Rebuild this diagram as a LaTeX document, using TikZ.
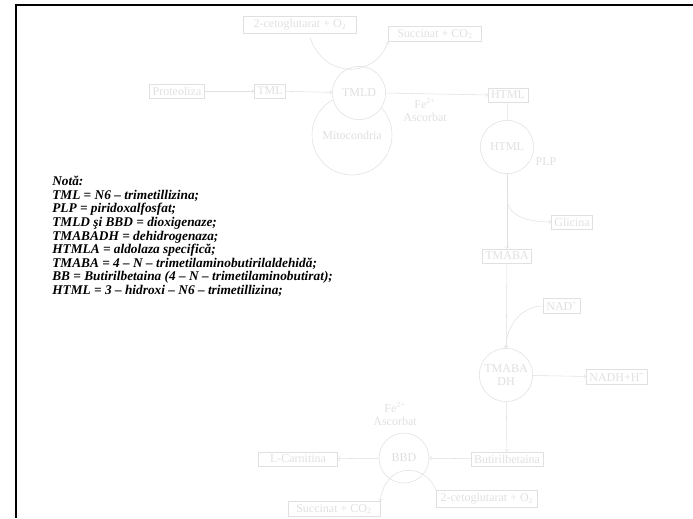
\documentclass[tikz,border=0pt]{standalone}
\usepackage{fontspec}
\setmainfont{Liberation Serif}
\definecolor{faint}{gray}{0.88}
\tikzset{
  boxx/.style={draw=faint, text=faint, inner sep=2.2pt, font=\fontsize{9}{10}\selectfont},
  enz/.style={circle, draw=faint, text=faint, fill=white, minimum size=40pt, inner sep=0pt, align=center, font=\fontsize{9}{10}\selectfont},
  lbl/.style={text=faint, align=center, font=\fontsize{9}{10}\selectfont},
  arr/.style={->, draw=faint}
}
\begin{document}
\begin{tikzpicture}[x=0.75pt, y=-0.75pt]
\useasboundingbox (0,0) rectangle (693,518);
\draw [line width=1.5pt] (16,518) -- (16,5) -- (693,5);
% TMLD step
\node [enz, minimum size=60pt] (mito) at (352,135) {Mitocondria};
\node [enz] (tmld) at (359,93) {TMLD};
\node [boxx] (prot) at (177,91) {Proteoliza};
\node [boxx] (tml) at (270,91) {TML};
\node [boxx, minimum width=85pt] (ceto1) at (300,25) {2-cetoglutarat + O\textsubscript{2}};
\node [boxx, minimum width=70pt] (succ1) at (435,34) {Succinat + CO\textsubscript{2}};
\node [lbl] (fe1) at (425,110) {Fe\textsuperscript{2+}\\Ascorbat};
\draw [arr] (prot) -- (tml);
\draw [arr] (tml) -- (tmld);
\draw [arr] (ceto1.south) ++(10,4) .. controls (325,80) and (375,78) .. (succ1.south west);
% HTML step
\node [boxx] (html) at (508,95) {HTML};
\node [enz] (htmlc) at (507,147) {HTML};
\node [lbl] (plp) at (546,162) {PLP};
\node [boxx] (glic) at (572,222) {Glicina};
\node [boxx] (tmaba) at (507,256) {TMABA};
\coordinate (gl) at (507,198);
\draw [arr] (tmld.east) -- (html.west);
\draw [draw=faint] (html) -- (htmlc);
\draw [arr] (htmlc) -- (tmaba);
\draw [arr] (gl) to[out=-90,in=180] (glic.west);
% TMABA DH step
\node [boxx] (nad) at (562,306) {NAD\textsuperscript{+}};
\node [enz] (tmabadh) at (506,375) {TMABA\\DH};
\node [boxx] (nadh) at (617,377) {NADH+H\textsuperscript{+}};
\node [boxx] (butir) at (507,459) {Butirilbetaina};
\draw [arr] (tmaba) -- (tmabadh);
\draw [arr] (nad.west) to[out=180,in=90] (tmabadh.north);
\draw [arr] (tmabadh) -- (nadh);
\draw [arr] (tmabadh) -- (butir);
% BBD step
\node [enz, minimum size=37.5pt] (bbd) at (404,458) {BBD};
\node [lbl] (fe2) at (395,414) {Fe\textsuperscript{2+}\\Ascorbat};
\node [boxx, minimum width=59pt] (lcarn) at (298,459) {L-Carnitina};
\node [boxx, minimum width=76pt] (ceto2) at (487,499) {2-cetoglutarat + O\textsubscript{2}};
\node [boxx, minimum width=69pt] (succ2) at (334,509) {Succinat + CO\textsubscript{2}};
\draw [arr] (butir) -- (bbd);
\draw [arr] (bbd) -- (lcarn);
\draw [arr] (ceto2.north west) .. controls (425,462) and (385,462) .. (succ2.north east);
% note
\node [anchor=north west, align=left, inner sep=0pt, font=\fontsize{10}{10.2}\selectfont\bfseries\itshape] (nota) at (52,176) {Notă:\\
TML = N6 – trimetillizina;\\
PLP = piridoxalfosfat;\\
TMLD şi BBD = dioxigenaze;\\
TMABADH = dehidrogenaza;\\
HTMLA = aldolaza specifică;\\
TMABA = 4 – N – trimetilaminobutirilaldehidă;\\
BB = Butirilbetaina (4 – N – trimetilaminobutirat);\\
HTML = 3 – hidroxi – N6 – trimetillizina;};
\end{tikzpicture}
\end{document}
